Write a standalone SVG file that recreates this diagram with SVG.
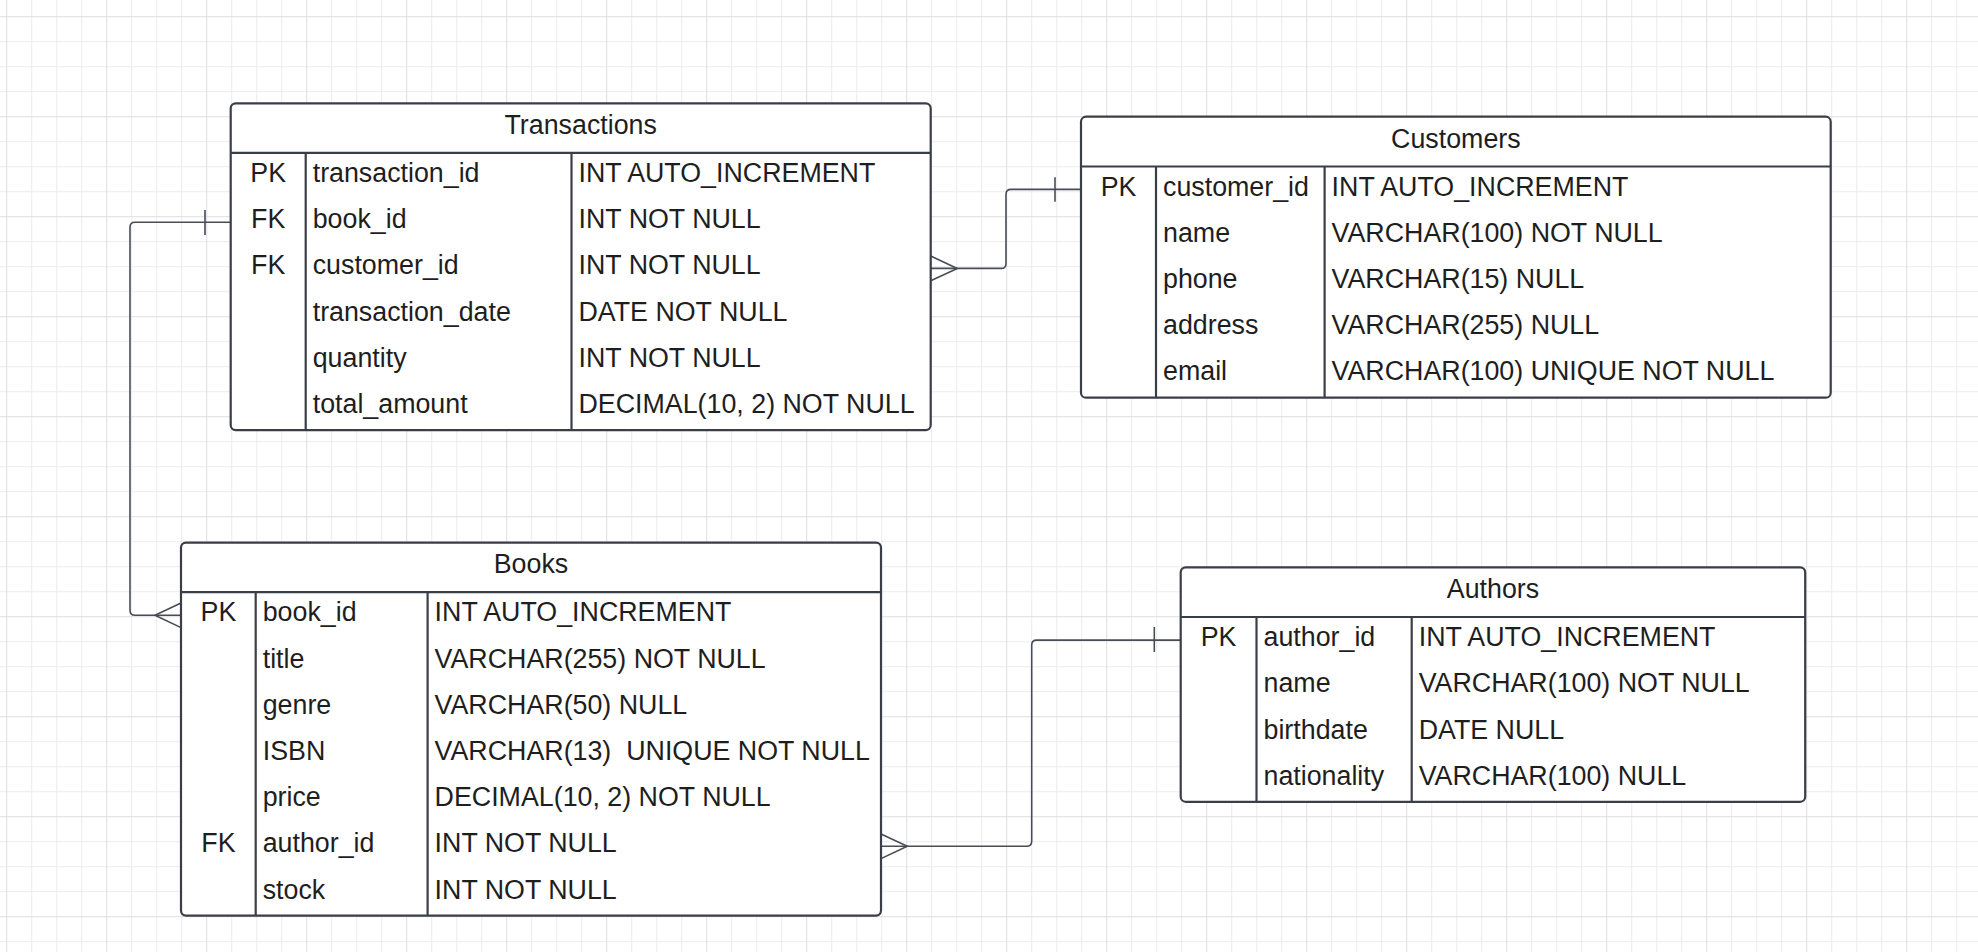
<svg xmlns="http://www.w3.org/2000/svg" width="1978" height="952" viewBox="0 0 1978 952">
<style>
.tbl{fill:#ffffff;stroke:#3a3f47;stroke-width:2.2}
.ln{stroke:#3a3f47;stroke-width:2.2;fill:none}
.t{font-family:"Liberation Sans",Arial,sans-serif;font-size:26.8px;fill:#1e1e1e}
.c{text-anchor:middle}
.con{stroke:#474c55;stroke-width:1.6;fill:none}
</style>
<defs>
<pattern id="grid" x="6.2" y="16.2" width="100" height="100" patternUnits="userSpaceOnUse">
<rect x="25" y="0" width="1" height="100" fill="#ececec"/>
<rect x="50" y="0" width="1" height="100" fill="#ececec"/>
<rect x="75" y="0" width="1" height="100" fill="#ececec"/>
<rect x="0" y="25" width="100" height="1" fill="#ececec"/>
<rect x="0" y="50" width="100" height="1" fill="#ececec"/>
<rect x="0" y="75" width="100" height="1" fill="#ececec"/>
<rect x="0" y="0" width="1" height="100" fill="#dedede"/>
<rect x="0" y="0" width="100" height="1" fill="#dedede"/>
</pattern>
</defs>
<rect width="1978" height="952" fill="#ffffff"/>
<rect width="1978" height="952" fill="url(#grid)"/>

<g id="connectors">
<!-- Transactions.book_id to Books.book_id -->
<path class="con" d="M230.7,222.2 H135 Q130,222.2 130,227.2 V610.3 Q130,615.3 135,615.3 H181"/>
<line class="con" x1="205" y1="210" x2="205" y2="235"/>
<polyline class="con" points="181,603 155,615.3 181,627.6"/>
<!-- Transactions.customer_id to Customers.customer_id -->
<path class="con" d="M930.7,268.4 H1001 Q1006,268.4 1006,263.4 V194.4 Q1006,189.4 1011,189.4 H1081"/>
<line class="con" x1="1055" y1="177.3" x2="1055" y2="201.7"/>
<polyline class="con" points="930.7,256 957.3,268.4 930.7,280.8"/>
<!-- Books.author_id to Authors.author_id -->
<path class="con" d="M881,846.3 H1026.7 Q1031.7,846.3 1031.7,841.3 V645.1 Q1031.7,640.1 1036.7,640.1 H1180.7"/>
<line class="con" x1="1154.3" y1="627" x2="1154.3" y2="652"/>
<polyline class="con" points="881,834 907.3,846.3 881,858.6"/>
</g>

<g id="transactions">
<rect class="tbl" x="230.7" y="103.3" width="700" height="326.8" rx="5"/>
<line class="ln" x1="230.7" y1="152.9" x2="930.7" y2="152.9"/>
<line class="ln" x1="305.7" y1="152.9" x2="305.7" y2="430.1"/>
<line class="ln" x1="571.5" y1="152.9" x2="571.5" y2="430.1"/>
<text class="t c" x="580.7" y="134">Transactions</text>
<text class="t c" x="268.2" y="182">PK</text>
<text class="t c" x="268.2" y="228.2">FK</text>
<text class="t c" x="268.2" y="274.4">FK</text>
<text class="t" x="312.7" y="182">transaction_id</text>
<text class="t" x="312.7" y="228.2">book_id</text>
<text class="t" x="312.7" y="274.4">customer_id</text>
<text class="t" x="312.7" y="320.6">transaction_date</text>
<text class="t" x="312.7" y="366.8">quantity</text>
<text class="t" x="312.7" y="413">total_amount</text>
<text class="t" x="578.5" y="182">INT AUTO_INCREMENT</text>
<text class="t" x="578.5" y="228.2">INT NOT NULL</text>
<text class="t" x="578.5" y="274.4">INT NOT NULL</text>
<text class="t" x="578.5" y="320.6">DATE NOT NULL</text>
<text class="t" x="578.5" y="366.8">INT NOT NULL</text>
<text class="t" x="578.5" y="413">DECIMAL(10, 2) NOT NULL</text>
</g>

<g id="customers">
<rect class="tbl" x="1081" y="116.7" width="749.7" height="281" rx="5"/>
<line class="ln" x1="1081" y1="166.5" x2="1830.7" y2="166.5"/>
<line class="ln" x1="1156" y1="166.5" x2="1156" y2="397.7"/>
<line class="ln" x1="1324.6" y1="166.5" x2="1324.6" y2="397.7"/>
<text class="t c" x="1455.9" y="147.6">Customers</text>
<text class="t c" x="1118.5" y="195.6">PK</text>
<text class="t" x="1163" y="195.6">customer_id</text>
<text class="t" x="1163" y="241.8">name</text>
<text class="t" x="1163" y="288">phone</text>
<text class="t" x="1163" y="334.2">address</text>
<text class="t" x="1163" y="380.4">email</text>
<text class="t" x="1331.6" y="195.6">INT AUTO_INCREMENT</text>
<text class="t" x="1331.6" y="241.8">VARCHAR(100) NOT NULL</text>
<text class="t" x="1331.6" y="288">VARCHAR(15) NULL</text>
<text class="t" x="1331.6" y="334.2">VARCHAR(255) NULL</text>
<text class="t" x="1331.6" y="380.4">VARCHAR(100) UNIQUE NOT NULL</text>
</g>

<g id="books">
<rect class="tbl" x="181" y="542.6" width="700" height="373" rx="5"/>
<line class="ln" x1="181" y1="592.2" x2="881" y2="592.2"/>
<line class="ln" x1="255.7" y1="592.2" x2="255.7" y2="915.6"/>
<line class="ln" x1="427.6" y1="592.2" x2="427.6" y2="915.6"/>
<text class="t c" x="531" y="573.4">Books</text>
<text class="t c" x="218.4" y="621.3">PK</text>
<text class="t c" x="218.4" y="852.3">FK</text>
<text class="t" x="262.7" y="621.3">book_id</text>
<text class="t" x="262.7" y="667.5">title</text>
<text class="t" x="262.7" y="713.7">genre</text>
<text class="t" x="262.7" y="759.9">ISBN</text>
<text class="t" x="262.7" y="806.1">price</text>
<text class="t" x="262.7" y="852.3">author_id</text>
<text class="t" x="262.7" y="898.5">stock</text>
<text class="t" x="434.6" y="621.3">INT AUTO_INCREMENT</text>
<text class="t" x="434.6" y="667.5">VARCHAR(255) NOT NULL</text>
<text class="t" x="434.6" y="713.7">VARCHAR(50) NULL</text>
<text class="t" x="434.6" y="759.9" xml:space="preserve">VARCHAR(13)  UNIQUE NOT NULL</text>
<text class="t" x="434.6" y="806.1">DECIMAL(10, 2) NOT NULL</text>
<text class="t" x="434.6" y="852.3">INT NOT NULL</text>
<text class="t" x="434.6" y="898.5">INT NOT NULL</text>
</g>

<g id="authors">
<rect class="tbl" x="1180.7" y="567.4" width="624.5" height="234.4" rx="5"/>
<line class="ln" x1="1180.7" y1="617" x2="1805.2" y2="617"/>
<line class="ln" x1="1256.5" y1="617" x2="1256.5" y2="801.8"/>
<line class="ln" x1="1411.7" y1="617" x2="1411.7" y2="801.8"/>
<text class="t c" x="1493" y="598.2">Authors</text>
<text class="t c" x="1218.6" y="646.1">PK</text>
<text class="t" x="1263.5" y="646.1">author_id</text>
<text class="t" x="1263.5" y="692.3">name</text>
<text class="t" x="1263.5" y="738.5">birthdate</text>
<text class="t" x="1263.5" y="784.7">nationality</text>
<text class="t" x="1418.7" y="646.1">INT AUTO_INCREMENT</text>
<text class="t" x="1418.7" y="692.3">VARCHAR(100) NOT NULL</text>
<text class="t" x="1418.7" y="738.5">DATE NULL</text>
<text class="t" x="1418.7" y="784.7">VARCHAR(100) NULL</text>
</g>
</svg>
